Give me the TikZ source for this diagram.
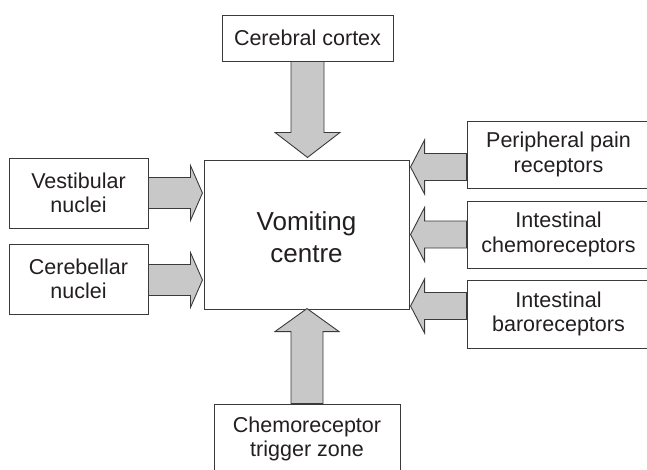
\documentclass[tikz,border=0pt]{standalone}
\usepackage{fontspec}
\setmainfont{Liberation Sans}
\usetikzlibrary{calc}
\definecolor{inkc}{HTML}{231F20}
\definecolor{linec}{HTML}{3A3A3A}
\definecolor{fillc}{HTML}{C8C8C8}
\tikzset{
  box/.style={draw=linec, line width=0.9pt, fill=white, inner sep=0pt, align=center,
    text=inkc, font=\fontsize{21.5}{24.5}\selectfont},
  bigbox/.style={box, font=\fontsize{26}{32}\selectfont},
  fat/.style={draw=linec, line width=0.9pt, fill=fillc, line join=miter},
  fatR/.pic={\draw[fat] (0,-15.5) -- (42,-15.5) -- (42,-27.5) -- (54,0) -- (42,27.5) -- (42,15.5) -- (0,15.5) -- cycle;},
  fatL/.pic={\draw[fat] (0,-13.5) -- (-42,-13.5) -- (-42,-27) -- (-56,0) -- (-42,27) -- (-42,13.5) -- (0,13.5) -- cycle;},
  fatD/.pic={\draw[fat] (-16.5,0) -- (-16.5,71) -- (-32.5,71) -- (0,96) -- (32.5,71) -- (16.5,71) -- (16.5,0) -- cycle;},
  fatU/.pic={\draw[fat] (-16,0) -- (-16,-72) -- (-32,-72) -- (0,-95) -- (32,-72) -- (16,-72) -- (16,0) -- cycle;},
}
\begin{document}
\begin{tikzpicture}[x=1pt,y=-1pt]
\useasboundingbox (0,0) rectangle (647,469);
\clip (0,0) rectangle (647,469);
% boxes
\node[box, minimum width=171pt, minimum height=46pt] (cc) at (307.5,38) {Cerebral cortex};
\node[bigbox, minimum width=205pt, minimum height=149pt] (vc) at (306.5,234.5) {\rule{0pt}{24pt}Vomiting\\centre};
\node[box, minimum width=186pt, minimum height=70pt] (ctz) at (307,439) {Chemoreceptor\\trigger zone};
\node[box, minimum width=139pt, minimum height=70pt] (vn) at (78.5,193) {Vestibular\\nuclei};
\node[box, minimum width=139pt, minimum height=70pt] (cn) at (78.5,279) {Cerebellar\\nuclei};
\node[box, minimum width=183pt, minimum height=67pt] (pp) at (558.5,154.5) {Peripheral pain\\receptors};
\node[box, minimum width=183pt, minimum height=67pt] (ic) at (558.5,234.5) {Intestinal\\chemoreceptors};
\node[box, minimum width=183pt, minimum height=68pt] (ib) at (558.5,314) {Intestinal\\baroreceptors};
% arrow bases
\coordinate (a1) at (cc.south);
\coordinate (a2) at (ctz.north);
\coordinate (a3) at (vn.east);
\coordinate (a4) at ($(cn.east)+(0,1)$);
\coordinate (a5) at ($(pp.west)+(0,12.5)$);
\coordinate (a6) at (ic.west);
\coordinate (a7) at ($(ib.west)+(0,-8)$);
% block arrows
\pic at (a1) {fatD};
\pic at (a2) {fatU};
\pic at (a3) {fatR};
\pic at (a4) {fatR};
\pic at (a5) {fatL};
\pic at (a6) {fatL};
\pic at (a7) {fatL};
\end{tikzpicture}
\end{document}
